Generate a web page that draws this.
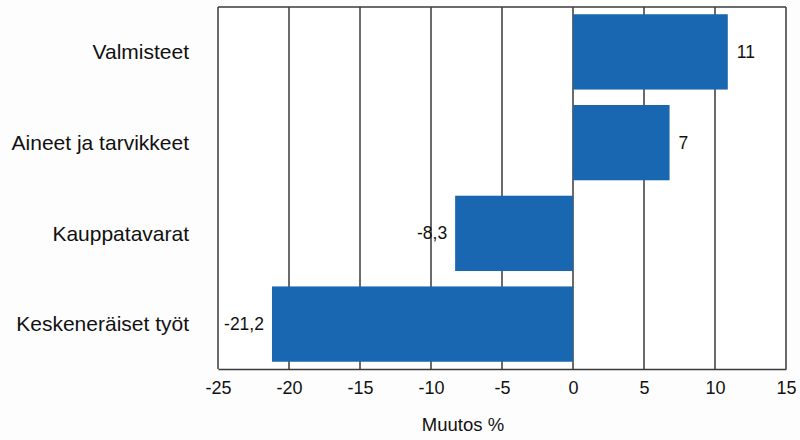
<!DOCTYPE html>
<html>
<head>
<meta charset="utf-8">
<script src="https://cdn.jsdelivr.net/npm/d3@7"></script>
<style>
  body { margin: 0; background: #fdfdfd; }
  svg { display: block; font-family: Arial, 'Liberation Sans', sans-serif; }
</style>
</head>
<body>
<div id="chart-container"></div>
<script>
const categories = [
  'Valmisteet',
  'Aineet ja tarvikkeet',
  'Kauppatavarat',
  'Keskeneräiset työt',
]
const values = [11, 7, -8.3, -21.2]
// bar lengths as drawn in the picture (labels are rounded)
const barValues = [10.9, 6.8, -8.3, -21.2]
const tickValues = [-25, -20, -15, -10, -5, 0, 5, 10, 15]
const axisTitle = 'Muutos %'

const width = 800
const height = 440
const marginTop = 7
const marginRight = 14
const marginBottom = 71
const marginLeft = 218

const barColor = '#1967b0'
const lineColor = '#3a3a3a'

const svg = d3
  .select('#chart-container')
  .append('svg')
  .attr('width', width)
  .attr('height', height)

const x = d3
  .scaleLinear()
  .domain([-25, 15])
  .range([marginLeft, width - marginRight])

const y = d3
  .scaleBand()
  .domain(categories)
  .range([marginTop, height - marginBottom])
  .paddingInner(0.17)
  .paddingOuter(0.08)

// white plot area
svg
  .append('rect')
  .attr('x', x(-25))
  .attr('y', marginTop)
  .attr('width', x(15) - x(-25))
  .attr('height', height - marginBottom - marginTop)
  .attr('fill', 'white')

// vertical gridlines (drawn behind the bars)
svg
  .append('g')
  .selectAll('line')
  .data(tickValues)
  .join('line')
  .attr('x1', d => x(d))
  .attr('x2', d => x(d))
  .attr('y1', marginTop)
  .attr('y2', height - marginBottom)
  .attr('stroke', lineColor)
  .attr('stroke-width', 1.5)

// top border
svg
  .append('line')
  .attr('x1', x(-25))
  .attr('x2', x(15))
  .attr('y1', marginTop)
  .attr('y2', marginTop)
  .attr('stroke', lineColor)
  .attr('stroke-width', 1.5)

const xAxis = svg
  .append('g')
  .attr('transform', `translate(0,${height - marginBottom})`)
  .call(
    d3
      .axisBottom(x)
      .tickValues(tickValues)
      .tickSize(0)
      .tickPadding(12)
      .tickFormat(d => d3.format('d')(d).replace('−', '-')),
  )

xAxis.select('.domain').attr('stroke', lineColor).attr('stroke-width', 1.5)
xAxis
  .selectAll('text')
  .attr('font-size', 18)
  .attr('font-family', 'Arial, Liberation Sans, sans-serif')
  .attr('fill', '#111')

svg
  .append('text')
  .attr('x', x(0) - 110)
  .attr('y', 431)
  .attr('text-anchor', 'middle')
  .attr('font-size', 18.5)
  .attr('fill', '#111')
  .text(axisTitle)

// bars
svg
  .append('g')
  .selectAll('rect')
  .data(categories)
  .join('rect')
  .attr('x', (d, i) => x(Math.min(0, barValues[i])))
  .attr('y', d => y(d))
  .attr('width', (d, i) => Math.abs(x(barValues[i]) - x(0)))
  .attr('height', y.bandwidth())
  .attr('fill', barColor)

// value labels
svg
  .append('g')
  .selectAll('text')
  .data(categories)
  .join('text')
  .attr('x', (d, i) =>
    barValues[i] >= 0 ? x(barValues[i]) + 9 : x(barValues[i]) - 8,
  )
  .attr('y', d => y(d) + y.bandwidth() / 2)
  .attr('dy', '0.35em')
  .attr('text-anchor', (d, i) => (barValues[i] >= 0 ? 'start' : 'end'))
  .attr('font-size', 17.5)
  .attr('fill', '#111')
  .text((d, i) => String(values[i]).replace('.', ','))

// category labels
svg
  .append('g')
  .selectAll('text')
  .data(categories)
  .join('text')
  .attr('x', 189)
  .attr('y', d => y(d) + y.bandwidth() / 2)
  .attr('dy', '0.35em')
  .attr('text-anchor', 'end')
  .attr('font-size', 21)
  .attr('fill', '#111')
  .text(d => d)
</script>
</body>
</html>
